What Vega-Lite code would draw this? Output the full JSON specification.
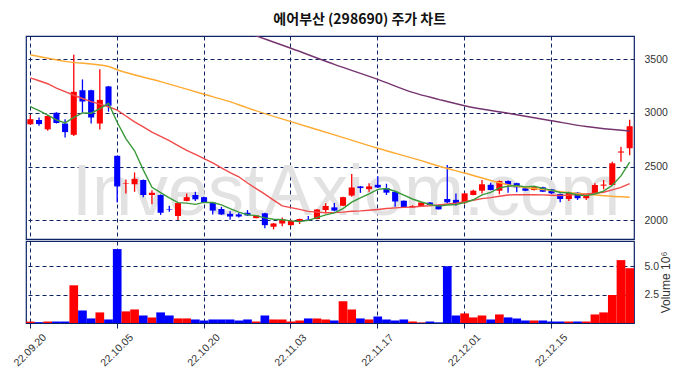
{
  "$schema": "https://vega.github.io/schema/vega-lite/v6.json",
  "autosize": {"type": "pad"},
  "padding": {"left": 11, "top": 13, "right": 0, "bottom": 0},
  "background": "white",
  "title": {
    "text": "에어부산 (298690) 주가 차트",
    "font": "Noto Sans CJK KR",
    "fontSize": 14,
    "fontWeight": "bold",
    "color": "#111111",
    "anchor": "middle",
    "dx": 18,
    "offset": 8
  },
  "datasets": {
    "ohlc": [
      {"d":"22.09.20","o":2893,"h":2980,"l":2888,"c":2940,"v":120000,"m5":3057,"m20":3325},
      {"d":"22.09.21","o":2933,"h":2955,"l":2880,"c":2895,"v":70000,"m5":3019,"m20":3298},
      {"d":"22.09.22","o":2846,"h":2975,"l":2833,"c":2970,"v":130000,"m5":2979,"m20":3270},
      {"d":"22.09.23","o":3000,"h":3005,"l":2900,"c":2905,"v":130000,"m5":2933,"m20":3230},
      {"d":"22.09.26","o":2900,"h":2940,"l":2770,"c":2820,"v":130000,"m5":2906,"m20":3196},
      {"d":"22.09.27","o":2795,"h":3540,"l":2785,"c":3195,"v":3310000,"m5":2957,"m20":3163},
      {"d":"22.09.28","o":3210,"h":3310,"l":3000,"c":3105,"v":1100000,"m5":2999,"m20":3133},
      {"d":"22.09.29","o":3210,"h":3215,"l":2900,"c":2955,"v":400000,"m5":2996,"m20":3103},
      {"d":"22.09.30","o":2900,"h":3405,"l":2845,"c":3120,"v":930000,"m5":3039,"m20":3080},
      {"d":"22.10.04","o":3245,"h":3250,"l":3010,"c":3065,"v":310000,"m5":3088,"m20":3056},
      {"d":"22.10.05","o":2600,"h":2600,"l":2165,"c":2315,"v":6490000,"m5":2912,"m20":3025},
      {"d":"22.10.06","o":2340,"h":2380,"l":2250,"c":2345,"v":1020000,"m5":2760,"m20":2970},
      {"d":"22.10.07","o":2335,"h":2445,"l":2265,"c":2385,"v":1190000,"m5":2646,"m20":2915},
      {"d":"22.10.11","o":2375,"h":2380,"l":2215,"c":2235,"v":660000,"m5":2469,"m20":2868},
      {"d":"22.10.12","o":2235,"h":2280,"l":2150,"c":2255,"v":490000,"m5":2307,"m20":2820},
      {"d":"22.10.13","o":2235,"h":2240,"l":2050,"c":2070,"v":930000,"m5":2258,"m20":2780},
      {"d":"22.10.14","o":2105,"h":2135,"l":2080,"c":2100,"v":660000,"m5":2209,"m20":2740},
      {"d":"22.10.17","o":2040,"h":2165,"l":2003,"c":2160,"v":400000,"m5":2164,"m20":2695},
      {"d":"22.10.18","o":2180,"h":2250,"l":2178,"c":2215,"v":400000,"m5":2160,"m20":2650},
      {"d":"22.10.19","o":2235,"h":2265,"l":2180,"c":2195,"v":310000,"m5":2148,"m20":2612},
      {"d":"22.10.20","o":2215,"h":2220,"l":2160,"c":2165,"v":220000,"m5":2167,"m20":2574},
      {"d":"22.10.21","o":2165,"h":2170,"l":2055,"c":2090,"v":310000,"m5":2165,"m20":2533},
      {"d":"22.10.24","o":2105,"h":2125,"l":2050,"c":2055,"v":310000,"m5":2144,"m20":2488},
      {"d":"22.10.25","o":2060,"h":2085,"l":2005,"c":2035,"v":310000,"m5":2108,"m20":2444},
      {"d":"22.10.26","o":2055,"h":2070,"l":2025,"c":2035,"v":220000,"m5":2076,"m20":2405},
      {"d":"22.10.27","o":2070,"h":2095,"l":2040,"c":2045,"v":310000,"m5":2052,"m20":2347},
      {"d":"22.10.28","o":2020,"h":2048,"l":2018,"c":2045,"v":130000,"m5":2043,"m20":2294},
      {"d":"22.10.31","o":2065,"h":2070,"l":1925,"c":1955,"v":660000,"m5":2023,"m20":2244},
      {"d":"22.11.01","o":1940,"h":1975,"l":1915,"c":1970,"v":310000,"m5":2010,"m20":2187},
      {"d":"22.11.02","o":1970,"h":2025,"l":1945,"c":2010,"v":310000,"m5":2005,"m20":2134},
      {"d":"22.11.03","o":1955,"h":2005,"l":1950,"c":1995,"v":130000,"m5":1995,"m20":2118},
      {"d":"22.11.04","o":1995,"h":2015,"l":1965,"c":2012,"v":220000,"m5":1988,"m20":2101},
      {"d":"22.11.07","o":2012,"h":2040,"l":2005,"c":2008,"v":400000,"m5":1999,"m20":2083},
      {"d":"22.11.08","o":2012,"h":2105,"l":2010,"c":2100,"v":400000,"m5":2025,"m20":2076},
      {"d":"22.11.09","o":2095,"h":2158,"l":2065,"c":2133,"v":310000,"m5":2050,"m20":2070},
      {"d":"22.11.10","o":2120,"h":2160,"l":2085,"c":2090,"v":220000,"m5":2069,"m20":2071},
      {"d":"22.11.11","o":2135,"h":2220,"l":2130,"c":2215,"v":1900000,"m5":2109,"m20":2076},
      {"d":"22.11.14","o":2230,"h":2430,"l":2220,"c":2305,"v":1190000,"m5":2169,"m20":2084},
      {"d":"22.11.15","o":2315,"h":2318,"l":2255,"c":2300,"v":400000,"m5":2209,"m20":2088},
      {"d":"22.11.16","o":2290,"h":2345,"l":2265,"c":2315,"v":310000,"m5":2245,"m20":2094},
      {"d":"22.11.17","o":2330,"h":2410,"l":2300,"c":2305,"v":570000,"m5":2288,"m20":2101},
      {"d":"22.11.18","o":2300,"h":2340,"l":2235,"c":2257,"v":310000,"m5":2296,"m20":2109},
      {"d":"22.11.21","o":2265,"h":2270,"l":2125,"c":2175,"v":220000,"m5":2270,"m20":2115},
      {"d":"22.11.22","o":2182,"h":2185,"l":2115,"c":2120,"v":310000,"m5":2234,"m20":2120},
      {"d":"22.11.23","o":2120,"h":2140,"l":2118,"c":2133,"v":130000,"m5":2198,"m20":2124},
      {"d":"22.11.24","o":2133,"h":2170,"l":2130,"c":2165,"v":50000,"m5":2170,"m20":2130},
      {"d":"22.11.25","o":2165,"h":2170,"l":2140,"c":2142,"v":130000,"m5":2147,"m20":2135},
      {"d":"22.11.28","o":2142,"h":2145,"l":2100,"c":2102,"v":50000,"m5":2132,"m20":2143},
      {"d":"22.11.29","o":2198,"h":2515,"l":2158,"c":2167,"v":4990000,"m5":2142,"m20":2152},
      {"d":"22.11.30","o":2190,"h":2250,"l":2135,"c":2160,"v":660000,"m5":2147,"m20":2160},
      {"d":"22.12.01","o":2164,"h":2255,"l":2152,"c":2250,"v":840000,"m5":2164,"m20":2173},
      {"d":"22.12.02","o":2235,"h":2285,"l":2232,"c":2275,"v":490000,"m5":2191,"m20":2186},
      {"d":"22.12.05","o":2275,"h":2375,"l":2250,"c":2335,"v":660000,"m5":2237,"m20":2202},
      {"d":"22.12.06","o":2330,"h":2350,"l":2280,"c":2282,"v":310000,"m5":2260,"m20":2211},
      {"d":"22.12.07","o":2275,"h":2370,"l":2242,"c":2365,"v":750000,"m5":2301,"m20":2223},
      {"d":"22.12.08","o":2365,"h":2370,"l":2257,"c":2328,"v":490000,"m5":2317,"m20":2235},
      {"d":"22.12.09","o":2345,"h":2350,"l":2260,"c":2307,"v":400000,"m5":2323,"m20":2239},
      {"d":"22.12.12","o":2298,"h":2300,"l":2272,"c":2275,"v":220000,"m5":2311,"m20":2238},
      {"d":"22.12.13","o":2282,"h":2312,"l":2278,"c":2307,"v":220000,"m5":2316,"m20":2238},
      {"d":"22.12.14","o":2307,"h":2312,"l":2262,"c":2266,"v":220000,"m5":2297,"m20":2236},
      {"d":"22.12.15","o":2288,"h":2292,"l":2245,"c":2251,"v":130000,"m5":2281,"m20":2233},
      {"d":"22.12.16","o":2245,"h":2250,"l":2167,"c":2198,"v":130000,"m5":2259,"m20":2230},
      {"d":"22.12.19","o":2198,"h":2265,"l":2180,"c":2257,"v":130000,"m5":2256,"m20":2234},
      {"d":"22.12.20","o":2257,"h":2262,"l":2189,"c":2205,"v":130000,"m5":2235,"m20":2239},
      {"d":"22.12.21","o":2205,"h":2240,"l":2189,"c":2235,"v":130000,"m5":2229,"m20":2244},
      {"d":"22.12.22","o":2251,"h":2344,"l":2248,"c":2328,"v":750000,"m5":2245,"m20":2252},
      {"d":"22.12.23","o":2322,"h":2375,"l":2288,"c":2332,"v":930000,"m5":2271,"m20":2261},
      {"d":"22.12.26","o":2328,"h":2545,"l":2325,"c":2530,"v":2460000,"m5":2326,"m20":2283},
      {"d":"22.12.27","o":2630,"h":2685,"l":2545,"c":2640,"v":5520000,"m5":2413,"m20":2306},
      {"d":"22.12.28","o":2670,"h":2935,"l":2605,"c":2875,"v":4810000,"m5":2541,"m20":2342}
    ],
    "ma60": [
      {"d":"22.09.20","m":3540},{"d":"22.09.26","m":3478},{"d":"22.10.04","m":3430},
      {"d":"22.10.05","m":3400},{"d":"22.10.13","m":3290},{"d":"22.10.20","m":3172},
      {"d":"22.10.25","m":3103},{"d":"22.10.27","m":3045},{"d":"22.11.03","m":2917},
      {"d":"22.11.10","m":2795},{"d":"22.11.17","m":2670},{"d":"22.11.24","m":2555},
      {"d":"22.11.28","m":2505},{"d":"22.12.01","m":2440},{"d":"22.12.08","m":2330},
      {"d":"22.12.14","m":2285},{"d":"22.12.20","m":2250},{"d":"22.12.23","m":2228},
      {"d":"22.12.28","m":2214}
    ],
    "ma120": [
      {"d":"22.10.24","m":3830},{"d":"22.10.28","m":3715},{"d":"22.11.03","m":3600},
      {"d":"22.11.10","m":3450},{"d":"22.11.17","m":3311},{"d":"22.11.23","m":3190},
      {"d":"22.11.28","m":3125},{"d":"22.12.01","m":3065},{"d":"22.12.08","m":2995},
      {"d":"22.12.15","m":2926},{"d":"22.12.21","m":2872},{"d":"22.12.28","m":2830}
    ],
    "wm": [{"label": "InvestAxiom.com"}]
  },
  "spacing": 0,
  "vconcat": [
    {
      "width": 608,
      "height": 203,
      "layer": [
        {
          "data": {"name": "wm"},
          "mark": {"type": "text", "font": "Liberation Sans", "fontSize": 72, "color": "#e2e2e2", "align": "center", "baseline": "alphabetic", "dx": 3},
          "encoding": {
            "x": {"datum": "22.11.11", "type": "ordinal"},
            "y": {"datum": 2050, "type": "quantitative"},
            "text": {"field": "label"}
          }
        },
        {
          "data": {"name": "ohlc"},
          "mark": {"type": "rule", "strokeWidth": 1.3},
          "encoding": {
            "x": {"field": "d", "type": "ordinal", "scale": {"type": "band", "paddingInner": 0, "paddingOuter": 0},
              "axis": {"values": ["22.09.20","22.10.05","22.10.20","22.11.03","22.11.17","22.12.01","22.12.15"], "labels": false, "ticks": false, "domain": false, "title": null, "grid": true, "bandPosition": 0.5}},
            "y": {"field": "l", "type": "quantitative", "scale": {"domain": [1826, 3714], "nice": false, "zero": false},
              "axis": {"orient": "right", "values": [2000, 2250, 2500, 2750, 3000, 3250, 3500], "format": "d", "title": null, "ticks": false, "domain": false, "labelPadding": 10, "grid": true}},
            "y2": {"field": "h"},
            "color": {"condition": {"test": "datum.c >= datum.o", "value": "#ff0000"}, "value": "#0000ff"}
          }
        },
        {
          "data": {"name": "ohlc"},
          "mark": {"type": "bar", "width": {"band": 0.7}},
          "encoding": {
            "x": {"field": "d", "type": "ordinal"},
            "y": {"field": "o", "type": "quantitative"},
            "y2": {"field": "c"},
            "color": {"condition": {"test": "datum.c >= datum.o", "value": "#ff0000"}, "value": "#0000ff"}
          }
        },
        {
          "data": {"name": "ma120"},
          "mark": {"type": "line", "color": "#75346f", "strokeWidth": 1.4, "clip": true, "interpolate": "monotone"},
          "encoding": {"x": {"field": "d", "type": "ordinal"}, "y": {"field": "m", "type": "quantitative"}}
        },
        {
          "data": {"name": "ma60"},
          "mark": {"type": "line", "color": "#ffaa33", "strokeWidth": 1.4, "clip": true, "interpolate": "monotone"},
          "encoding": {"x": {"field": "d", "type": "ordinal"}, "y": {"field": "m", "type": "quantitative"}}
        },
        {
          "data": {"name": "ohlc"},
          "mark": {"type": "line", "color": "#f24a4a", "strokeWidth": 1.4, "clip": true},
          "encoding": {"x": {"field": "d", "type": "ordinal"}, "y": {"field": "m20", "type": "quantitative"}}
        },
        {
          "data": {"name": "ohlc"},
          "mark": {"type": "line", "color": "#3a9a3a", "strokeWidth": 1.4, "clip": true},
          "encoding": {"x": {"field": "d", "type": "ordinal"}, "y": {"field": "m5", "type": "quantitative"}}
        }
      ]
    },
    {
      "width": 608,
      "height": 82,
      "data": {"name": "ohlc"},
      "mark": {"type": "bar", "width": {"band": 1}},
      "encoding": {
        "x": {"field": "d", "type": "ordinal", "scale": {"type": "band", "paddingInner": 0, "paddingOuter": 0},
          "axis": {"values": ["22.09.20","22.10.05","22.10.20","22.11.03","22.11.17","22.12.01","22.12.15"], "title": null, "grid": true, "bandPosition": 0.5, "domain": false, "ticks": true, "tickSize": 5, "tickColor": "#0c2366", "labelAngle": -45, "labelAlign": "center", "labelBaseline": "middle", "labelPadding": 22}},
        "y": {"field": "v", "type": "quantitative", "scale": {"domain": [0, 7200000], "nice": false},
          "axis": {"orient": "right", "values": [2500000, 5000000], "labelExpr": "format(datum.value / 1000000, '.1f')", "title": "Volume  10⁶", "titleAngle": 270, "titleFontWeight": "normal", "titleFont": "Liberation Sans", "titleFontSize": 12, "titleColor": "#333333", "titlePadding": 14, "ticks": false, "domain": false, "labelPadding": 10, "grid": true}},
        "color": {"condition": {"test": "datum.c >= datum.o", "value": "#ff0000"}, "value": "#0000ff"}
      }
    }
  ],
  "config": {
    "view": {"stroke": "#0c2366", "strokeWidth": 1.2},
    "axis": {
      "gridColor": "#0c2366",
      "gridDash": [4, 3],
      "gridWidth": 1,
      "gridOpacity": 1,
      "labelFont": "Liberation Sans",
      "labelFontSize": 10.5,
      "labelColor": "#333333"
    }
  }
}
